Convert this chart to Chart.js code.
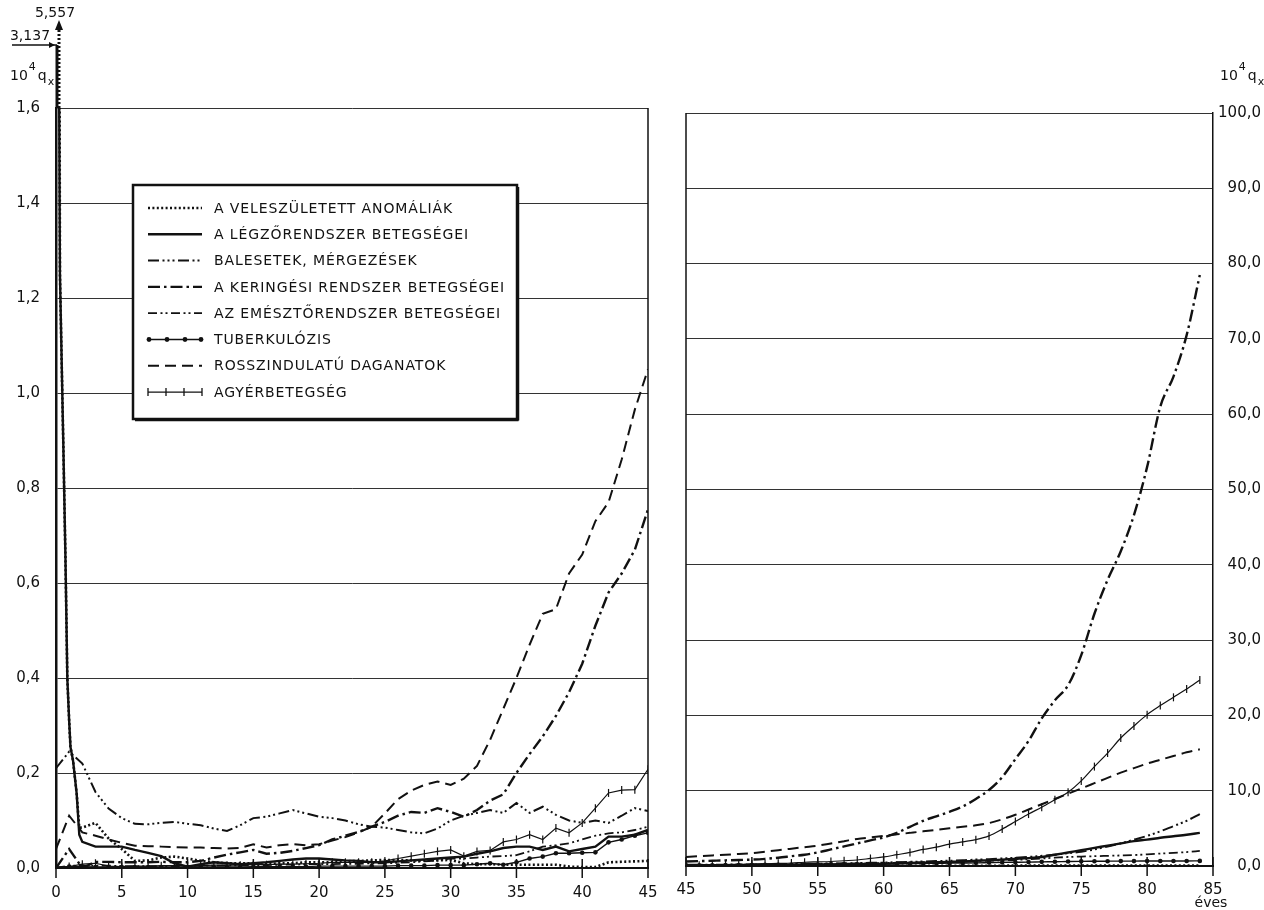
<!DOCTYPE html>
<html><head><meta charset="utf-8">
<script src="https://cdn.jsdelivr.net/npm/chart.js@4.4.0/dist/chart.umd.min.js"></script>
<style>
html,body{margin:0;padding:0;background:#fff;}
#wrap{position:relative;width:1264px;height:910px;overflow:hidden;background:#fff;}
canvas{position:absolute;left:0;top:0;}
</style></head><body>
<div id="wrap"><canvas id="leftC" width="1264" height="910"></canvas><canvas id="rightC" width="1264" height="910"></canvas></div>
<script>
// ---------- DATA ----------
const seriesNames = [
  'A VELESZÜLETETT ANOMÁLIÁK',
  'A LÉGZŐRENDSZER BETEGSÉGEI',
  'BALESETEK, MÉRGEZÉSEK',
  'A KERINGÉSI RENDSZER BETEGSÉGEI',
  'AZ EMÉSZTŐRENDSZER BETEGSÉGEI',
  'TUBERKULÓZIS',
  'ROSSZINDULATÚ DAGANATOK',
  'AGYÉRBETEGSÉG'
];
const leftXTickLabels = ['0','5','10','15','20','25','30','35','40','45'];
const rightXTickLabels = ['45','50','55','60','65','70','75','80','85'];
const leftYTickLabels = ['0,0','0,2','0,4','0,6','0,8','1,0','1,2','1,4','1,6'];
const rightYTickLabels = ['0,0','10,0','20,0','30,0','40,0','50,0','60,0','70,0','80,0','90,0','100,0'];
const offScaleLabels = ['5,557','3,137'];

const agesLeft = [0,1,2,3,4,5,6,7,8,9,10,11,12,13,14,15,16,17,18,19,20,21,22,23,24,25,26,27,28,29,30,31,32,33,34,35,36,37,38,39,40,41,42,43,44,45];
const agesLeftInfant = [0,0.3,0.55,0.72,0.86,1,1.1,1.3,1.57,1.77,2,3,4,5,6,7,8,9,10,11,12,13,14,15,16,17,18,19,20,21,22,23,24,25,26,27,28,29,30,31,32,33,34,35,36,37,38,39,40,41,42,43,44,45];
const agesRight = [45,46,47,48,49,50,51,52,53,54,55,56,57,58,59,60,61,62,63,64,65,66,67,68,69,70,71,72,73,74,75,76,77,78,79,80,81,82,83,84];

// left panel (0-45 years), 10^4 qx
const anomaliesLeft = [5.557,1.25,0.9,0.65,0.4,0.31,0.255,0.225,0.157,0.085,
  0.085,0.095,0.062,0.04,0.015,0.016,0.022,0.024,
  0.02,0.015,0.012,0.01,0.01,0.01,0.008,0.01,0.01,0.012,
  0.012,0.012,0.014,0.015,0.016,0.017,0.017,0.016,0.016,0.016,
  0.017,0.01,0.008,0.008,0.007,0.007,0.007,0.007,0.007,0.003,
  0.002,0.002,0.012,0.013,0.014,0.015];
const respiratoryLeft = [3.137,1.25,0.9,0.65,0.4,0.31,0.255,0.225,0.157,0.07,
  0.055,0.045,0.045,0.045,0.038,0.032,0.025,0.01,
  0.003,0.008,0.012,0.01,0.008,0.01,0.012,0.015,0.018,0.02,
  0.02,0.018,0.016,0.015,0.012,0.012,0.014,0.016,0.018,0.02,
  0.022,0.024,0.03,0.035,0.042,0.045,0.045,0.038,0.045,0.035,
  0.04,0.045,0.066,0.066,0.07,0.08];
const accidentsLeft = [0.21,0.245,0.22,0.16,0.125,0.105,0.093,0.092,0.095,0.097,
  0.093,0.09,0.083,0.078,0.09,0.105,0.108,0.115,0.122,0.115,
  0.108,0.105,0.1,0.092,0.087,0.085,0.08,0.075,0.073,0.083,
  0.1,0.11,0.116,0.122,0.116,0.137,0.116,0.129,0.112,0.1,
  0.095,0.1,0.095,0.11,0.126,0.12];
const circulatoryLeft = [0.0,0.04,0.0,0.013,0.013,0.012,0.012,0.012,0.013,0.012,
  0.012,0.015,0.022,0.028,0.033,0.038,0.03,0.032,0.036,0.042,
  0.048,0.06,0.068,0.076,0.087,0.097,0.11,0.118,0.116,0.126,
  0.118,0.108,0.122,0.142,0.155,0.2,0.24,0.277,0.32,0.37,
  0.43,0.51,0.58,0.62,0.67,0.755];
const digestiveLeft = [0.0,0.005,0.005,0.005,0.005,0.004,0.004,0.004,0.004,0.004,
  0.004,0.005,0.005,0.005,0.006,0.006,0.006,0.007,0.007,0.008,
  0.008,0.008,0.009,0.009,0.01,0.01,0.011,0.012,0.014,0.016,
  0.02,0.02,0.022,0.024,0.025,0.027,0.035,0.045,0.048,0.052,
  0.06,0.068,0.073,0.075,0.08,0.087];
const tuberculosisLeft = [0.002,0.003,0.003,0.002,0.002,0.002,0.002,0.002,0.002,0.002,
  0.002,0.002,0.002,0.002,0.002,0.003,0.003,0.003,0.003,0.003,
  0.004,0.004,0.004,0.004,0.004,0.004,0.005,0.005,0.005,0.006,
  0.006,0.006,0.008,0.01,0.007,0.012,0.02,0.024,0.031,0.031,
  0.032,0.033,0.054,0.06,0.068,0.074];
const malignantLeft = [0.04,0.11,0.075,0.068,0.06,0.053,0.047,0.046,0.045,0.044,
  0.043,0.043,0.042,0.041,0.042,0.05,0.043,0.048,0.05,0.048,
  0.05,0.058,0.065,0.075,0.087,0.115,0.145,0.163,0.175,0.182,
  0.175,0.188,0.215,0.27,0.335,0.4,0.47,0.535,0.545,0.62,
  0.66,0.73,0.77,0.86,0.965,1.05];
const cerebrovascularLeft = [0.0,0.003,0.008,0.01,0.004,0.003,0.004,0.004,0.005,0.005,
  0.005,0.005,0.006,0.006,0.006,0.007,0.007,0.008,0.008,0.009,
  0.01,0.012,0.012,0.012,0.012,0.015,0.02,0.025,0.03,0.035,
  0.038,0.025,0.035,0.037,0.055,0.06,0.07,0.06,0.084,0.074,
  0.095,0.126,0.158,0.164,0.165,0.208];

// right panel (45-84 years), 10^4 qx
const anomaliesRight = [0.02,0.02,0.02,0.02,0.02,0.02,0.02,0.02,0.02,0.03,
  0.03,0.03,0.03,0.03,0.03,0.03,0.03,0.03,0.03,0.03,
  0.04,0.04,0.04,0.04,0.04,0.05,0.05,0.05,0.05,0.05,
  0.05,0.05,0.05,0.05,0.05,0.05,0.05,0.05,0.05,0.05];
const respiratoryRight = [0.1,0.1,0.1,0.12,0.13,0.15,0.16,0.17,0.18,0.19,
  0.2,0.22,0.24,0.26,0.28,0.3,0.35,0.4,0.45,0.5,
  0.55,0.6,0.7,0.75,0.85,0.95,1.05,1.2,1.5,1.8,
  2.1,2.4,2.7,3.0,3.3,3.5,3.75,3.95,4.15,4.4];
const accidentsRight = [0.15,0.16,0.17,0.18,0.19,0.2,0.22,0.24,0.26,0.28,
  0.3,0.33,0.36,0.39,0.42,0.45,0.5,0.55,0.6,0.65,
  0.7,0.75,0.85,0.9,1.0,1.1,1.2,1.35,1.5,1.7,
  1.9,2.2,2.6,3.0,3.5,4.0,4.6,5.3,6.0,6.9];
const circulatoryRight = [0.6,0.65,0.7,0.75,0.8,0.85,0.95,1.1,1.3,1.5,
  1.8,2.2,2.6,3.0,3.4,3.8,4.4,5.2,6.0,6.6,
  7.2,7.9,8.9,10.1,11.8,14.2,16.6,19.6,22.0,24.0,
  28.0,33.5,38.0,41.8,46.6,53.0,61.0,65.0,70.5,78.5];
const digestiveRight = [0.1,0.1,0.12,0.14,0.16,0.18,0.2,0.22,0.24,0.26,
  0.28,0.3,0.32,0.34,0.37,0.4,0.43,0.46,0.49,0.52,
  0.55,0.6,0.65,0.7,0.75,0.8,0.9,1.0,1.1,1.2,
  1.25,1.3,1.35,1.4,1.45,1.55,1.65,1.75,1.85,2.0];
const tuberculosisRight = [0.1,0.1,0.1,0.12,0.12,0.14,0.15,0.16,0.17,0.18,
  0.2,0.21,0.22,0.24,0.26,0.28,0.3,0.32,0.34,0.36,
  0.38,0.4,0.42,0.45,0.48,0.5,0.52,0.55,0.57,0.6,
  0.62,0.63,0.64,0.65,0.65,0.66,0.66,0.67,0.67,0.68];
const malignantRight = [1.2,1.3,1.4,1.5,1.6,1.7,1.9,2.1,2.3,2.5,
  2.7,3.0,3.3,3.6,3.8,4.0,4.2,4.4,4.6,4.8,
  5.0,5.2,5.4,5.7,6.2,6.8,7.5,8.2,8.9,9.6,
  10.3,11.0,11.7,12.4,13.0,13.6,14.1,14.6,15.1,15.5];
const cerebrovascularRight = [0.1,0.1,0.15,0.2,0.2,0.25,0.3,0.35,0.4,0.5,
  0.55,0.6,0.7,0.8,1.0,1.2,1.5,1.8,2.2,2.5,
  2.9,3.2,3.5,4.0,4.9,5.9,6.9,7.8,8.8,9.8,
  11.3,13.2,15.0,17.0,18.6,20.1,21.3,22.4,23.5,24.7];

// ---------- STYLES ----------
const FONT = "'DejaVu Sans', sans-serif";
const INK = '#111';
const seriesStyles = [
  {dash:[2,2.4], width:2.6, marker:null},
  {dash:[], width:2.4, marker:null},
  {dash:[11,3.5,2,3,2,3,2,3.5], width:2, marker:null},
  {dash:[12,4,2.5,4], width:2.4, marker:null},
  {dash:[9,3.5,2,3,2,3.5], width:1.8, marker:null},
  {dash:[], width:1.4, marker:'dot'},
  {dash:[11,6], width:2, marker:null},
  {dash:[], width:1.2, marker:'tick'}
];

function pts(ages, vals){ return ages.map((a,i)=>({x:a, y:vals[i]})); }
function makeDatasets(list, smooth){
  return list.map((d,i)=>{
    const s = seriesStyles[i];
    const ds = {
      label: seriesNames[i],
      data: pts(d[0], d[1]),
      borderColor: INK,
      backgroundColor: INK,
      borderWidth: s.width,
      borderDash: s.dash,
      tension: 0,
      pointRadius: 0,
      pointHoverRadius: 0
    };
    if (smooth) ds.cubicInterpolationMode = 'monotone';
    if (s.marker==='dot'){ ds.pointRadius=2.3; ds.pointStyle='circle'; ds.pointBackgroundColor=INK; ds.pointBorderWidth=0; }
    if (s.marker==='tick'){ ds.pointRadius=4; ds.pointStyle='line'; ds.rotation=90; ds.pointBorderColor=INK; ds.pointBorderWidth=1.2; }
    return ds;
  });
}

function seg(ctx,x1,y1,x2,y2){ ctx.beginPath(); ctx.moveTo(x1,y1); ctx.lineTo(x2,y2); ctx.stroke(); }
function drawQx(ctx, x, y){
  ctx.fillStyle = INK; ctx.textBaseline='alphabetic'; ctx.textAlign='left';
  ctx.font = '14px '+FONT; ctx.fillText('10', x, y);
  let w = ctx.measureText('10').width;
  ctx.font = '11px '+FONT; ctx.fillText('4', x+w+1, y-10);
  let w2 = ctx.measureText('4').width;
  ctx.font = '14px '+FONT; ctx.fillText('q', x+w+w2+3, y);
  let w3 = ctx.measureText('q').width;
  ctx.font = '11px '+FONT; ctx.fillText('x', x+w+w2+w3+4, y+5);
}

function xTicks(ctx, scale, area){
  ctx.lineWidth = 1.5; ctx.setLineDash([]);
  for (const t of scale.ticks){ const px = scale.getPixelForValue(t.value); seg(ctx, px, area.bottom-9, px, area.bottom+10); }
}

const leftDecor = {
  id:'leftDecor',
  afterDraw(chart){
    const {ctx, chartArea:a, scales:{x,y}} = chart;
    const ds = chart.data.datasets;
    ctx.save();
    ctx.strokeStyle = INK; ctx.fillStyle = INK;
    // right frame
    ctx.lineWidth = 1.5; ctx.setLineDash([]);
    const xr = x.getPixelForValue(45);
    seg(ctx, xr, a.top, xr, a.bottom);
    xTicks(ctx, x, a);
    // off-scale extension at age 0
    const x0 = x.getPixelForValue(0);
    ctx.lineWidth = 3; ctx.setLineDash([]);
    seg(ctx, x0+1, a.top, x0+1, 45);
    ctx.lineWidth = 1.5;
    seg(ctx, 12, 45, x0+1, 45);
    ctx.beginPath(); ctx.moveTo(x0-1,45); ctx.lineTo(x0-7,42); ctx.lineTo(x0-7,48); ctx.closePath(); ctx.fill();
    ctx.lineWidth = 3; ctx.setLineDash([2,2]);
    seg(ctx, x0+3, a.top, x0+3, 29);
    ctx.setLineDash([]);
    ctx.beginPath(); ctx.moveTo(x0+3,20); ctx.lineTo(x0-1,30); ctx.lineTo(x0+7,30); ctx.closePath(); ctx.fill();
    ctx.font = '14px '+FONT; ctx.textAlign='center'; ctx.textBaseline='middle';
    ctx.fillText(offScaleLabels[0], 55, 13);
    ctx.fillText(offScaleLabels[1], 30, 36);
    drawQx(ctx, 10, 80);
    // legend box
    const L=133, T=185, R=517, B=419;
    ctx.fillStyle='#fff'; ctx.fillRect(L,T,R-L,B-T);
    ctx.fillStyle=INK; ctx.strokeStyle=INK; ctx.setLineDash([]);
    ctx.lineWidth=2.5; ctx.strokeRect(L,T,R-L,B-T);
    ctx.lineWidth=1.5; seg(ctx, R+1.5, T+2, R+1.5, B+1.5); seg(ctx, L+2, B+1.5, R+1.5, B+1.5);
    ctx.font = '14px '+FONT; ctx.textAlign='left'; ctx.textBaseline='middle';
    try { ctx.letterSpacing = '0.9px'; } catch(e) {}
    for (let i=0;i<ds.length;i++){
      const yy = 208 + i*26.3;
      const s = seriesStyles[i];
      ctx.lineWidth = s.width; ctx.setLineDash(s.dash);
      seg(ctx, 148, yy, 202, yy);
      ctx.setLineDash([]);
      if (s.marker==='dot'){ for (const mx of [149,167,185,201]){ ctx.beginPath(); ctx.arc(mx,yy,2.4,0,Math.PI*2); ctx.fill(); } }
      if (s.marker==='tick'){ ctx.lineWidth=1.3; for (const mx of [148,166,184,202]){ seg(ctx,mx,yy-4,mx,yy+4); } }
      ctx.fillText(ds[i].label, 214, yy+1);
    }
    ctx.restore();
  }
};

const rightDecor = {
  id:'rightDecor',
  afterDraw(chart){
    const {ctx, chartArea:a, scales:{x}} = chart;
    ctx.save();
    ctx.strokeStyle = INK; ctx.fillStyle = INK;
    ctx.lineWidth = 1.5; ctx.setLineDash([]);
    const xl = x.getPixelForValue(45);
    seg(ctx, xl, a.top, xl, a.bottom);
    xTicks(ctx, x, a);
    ctx.font = '14px '+FONT; ctx.textAlign='center'; ctx.textBaseline='middle';
    ctx.fillText('éves', x.getPixelForValue(85)-2, 903);
    drawQx(ctx, 1220, 80);
    ctx.restore();
  }
};

const tickFont = {family:FONT, size:15};

const leftChart = new Chart(document.getElementById('leftC'), {
  type:'line',
  data:{ datasets: makeDatasets([
    [agesLeftInfant, anomaliesLeft],
    [agesLeftInfant, respiratoryLeft],
    [agesLeft, accidentsLeft],
    [agesLeft, circulatoryLeft],
    [agesLeft, digestiveLeft],
    [agesLeft, tuberculosisLeft],
    [agesLeft, malignantLeft],
    [agesLeft, cerebrovascularLeft]
  ], false)},
  options:{
    responsive:false, animation:false, devicePixelRatio:1,
    layout:{padding:{left:0, right:616, top:108, bottom:8}},
    plugins:{legend:{display:false}, tooltip:{enabled:false}},
    scales:{
      x:{type:'linear', min:0, max:45,
         afterFit:(s)=>{ s.height = 34; },
         ticks:{stepSize:5, font:tickFont, color:INK, padding:8, maxRotation:0,
                callback:(v,i)=>leftXTickLabels[i]},
         grid:{display:false},
         border:{display:true, color:INK, width:2}},
      y:{min:0, max:1.6,
         afterFit:(s)=>{ s.width = 56; },
         ticks:{stepSize:0.2, font:tickFont, color:INK, padding:16,
                callback:(v,i)=>leftYTickLabels[i]},
         grid:{color:'#333', lineWidth:1, drawTicks:false},
         border:{display:true, color:INK, width:2.5}}
    }
  },
  plugins:[leftDecor]
});

const rightChart = new Chart(document.getElementById('rightC'), {
  type:'line',
  data:{ datasets: makeDatasets([
    [agesRight, anomaliesRight],
    [agesRight, respiratoryRight],
    [agesRight, accidentsRight],
    [agesRight, circulatoryRight],
    [agesRight, digestiveRight],
    [agesRight, tuberculosisRight],
    [agesRight, malignantRight],
    [agesRight, cerebrovascularRight]
  ], true)},
  options:{
    responsive:false, animation:false, devicePixelRatio:1,
    layout:{padding:{left:686, right:3, top:113, bottom:10}},
    plugins:{legend:{display:false}, tooltip:{enabled:false}},
    scales:{
      x:{type:'linear', min:45, max:85,
         afterFit:(s)=>{ s.height = 34; },
         ticks:{stepSize:5, font:tickFont, color:INK, padding:7, maxRotation:0,
                callback:(v,i)=>rightXTickLabels[i]},
         grid:{display:false},
         border:{display:true, color:INK, width:2}},
      y:{position:'right', min:0, max:100,
         afterFit:(s)=>{ s.width = 48; },
         ticks:{stepSize:10, font:tickFont, color:INK, padding:0, crossAlign:'far',
                callback:(v,i)=>rightYTickLabels[i]},
         grid:{color:'#333', lineWidth:1, drawTicks:false},
         border:{display:true, color:INK, width:1.5}}
    }
  },
  plugins:[rightDecor]
});
</script>
</body></html>
